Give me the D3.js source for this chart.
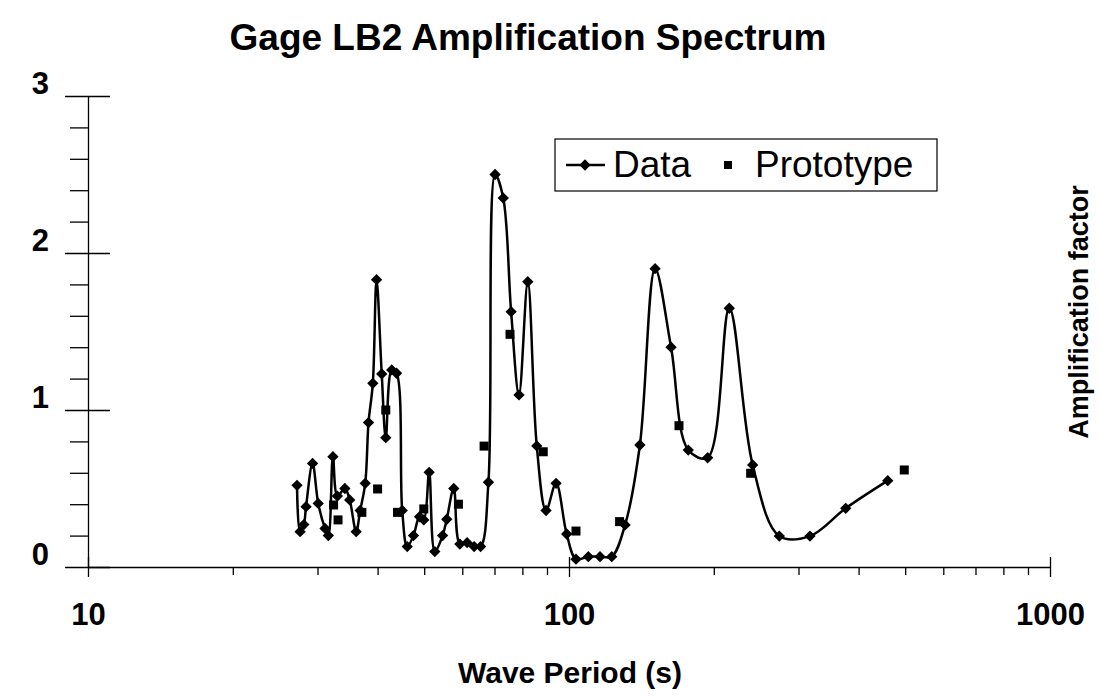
<!DOCTYPE html>
<html>
<head>
<meta charset="utf-8">
<script src="https://cdn.jsdelivr.net/npm/d3@7"></script>
<style>
  body { margin: 0; background: #fff; }
  text { font-family: Arial, "Liberation Sans", sans-serif; fill: #000; }
</style>
</head>
<body>
<svg id="chart"></svg>
<script>
// measured data (wave period in s, amplification factor)
const dataPeriod = [27.2, 27.6, 28.1, 28.4, 29.3, 30.1, 31.1, 31.6, 32.3, 33.0,
  34.2, 35.0, 36.1, 36.8, 37.7, 38.3, 39.1, 39.8, 40.8, 41.6,
  42.8, 43.8, 45.0, 46.1, 47.5, 48.9, 49.9, 51.2, 52.6, 54.6,
  55.7, 57.6, 59.3, 61.4, 63.5, 65.5, 68.0, 70.2, 73.0, 75.8,
  78.7, 82.1, 85.7, 89.6, 94.0, 98.9, 103.4, 109.7, 116.0, 122.7,
  130.8, 140.4, 151.0, 163.0, 177.0, 194.2, 215.4, 240.9, 273.7, 316.9,
  376.1, 459.9];
const dataAmp = [0.52, 0.225, 0.27, 0.384, 0.66, 0.405, 0.246, 0.20, 0.703, 0.452,
  0.50, 0.427, 0.225, 0.36, 0.533, 0.92, 1.17, 1.83, 1.23, 0.824,
  1.255, 1.234, 0.36, 0.13, 0.20, 0.32, 0.30, 0.603, 0.098, 0.20,
  0.304, 0.50, 0.146, 0.155, 0.13, 0.13, 0.54, 2.50, 2.35, 1.626,
  1.096, 1.817, 0.771, 0.36, 0.533, 0.21, 0.05, 0.066, 0.066, 0.066,
  0.268, 0.777, 1.90, 1.40, 0.745, 0.696, 1.648, 0.65, 0.197, 0.197,
  0.374, 0.55];

// prototype points
const protoPeriod = [32.4, 33.1, 37.1, 40.0, 41.6, 44.0, 49.9, 58.9, 66.6, 75.4,
  88.4, 103.4, 127.4, 169.3, 238.6, 497.8];
const protoAmp = [0.395, 0.30, 0.348, 0.497, 1.0, 0.348, 0.37, 0.40, 0.77, 1.482,
  0.734, 0.229, 0.289, 0.90, 0.597, 0.618];

const xTicks = [10, 100, 1000];
const yTicks = [0, 1, 2, 3];

const width = 1100, height = 700;
const svg = d3.select('#chart').attr('width', width).attr('height', height);

const x = d3.scaleLog().domain([10, 1000]).range([88, 1050]);
const y = d3.scaleLinear().domain([0, 3]).range([567, 96]);

// title
svg.append('text')
  .attr('x', 528).attr('y', 50)
  .attr('text-anchor', 'middle')
  .style('font-size', '37px').style('font-weight', 'bold')
  .text('Gage LB2 Amplification Spectrum');

// x axis: minor ticks
svg.append('g')
  .attr('transform', 'translate(0,567)')
  .call(d3.axisBottom(x)
    .tickValues(x.ticks().filter(d => !xTicks.includes(d)))
    .tickSize(8).tickSizeOuter(0).tickFormat(''))
  .call(g => g.select('.domain').remove())
  .selectAll('line').attr('stroke-width', 1.3);

// x axis: major ticks + labels
let xg = svg.append('g')
  .attr('transform', 'translate(0,567)')
  .call(d3.axisBottom(x).tickValues(xTicks).tickSize(10).tickSizeOuter(0)
    .tickFormat(d3.format('d')));
xg.select('.domain').attr('stroke-width', 1.3);
xg.selectAll('.tick line').attr('y1', -10).attr('stroke-width', 1.3);
xg.selectAll('.tick text')
  .attr('y', 58).attr('dy', 0)
  .style('font-size', '31px').style('font-weight', 'bold');

// y axis: minor ticks
svg.append('g')
  .attr('transform', 'translate(88,0)')
  .call(d3.axisLeft(y)
    .tickValues(y.ticks(15).filter(d => !yTicks.includes(d)))
    .tickSize(18).tickSizeOuter(0).tickFormat(''))
  .call(g => g.select('.domain').remove())
  .selectAll('line').attr('stroke-width', 1.3);

// y axis: major ticks + labels
let yg = svg.append('g')
  .attr('transform', 'translate(88,0)')
  .call(d3.axisLeft(y).tickValues(yTicks).tickSize(23).tickSizeOuter(0)
    .tickFormat(d3.format('d')));
yg.select('.domain').attr('stroke-width', 1.3);
yg.selectAll('.tick line').attr('x1', 22).attr('stroke-width', 1.3);
yg.selectAll('.tick text')
  .attr('x', -39).attr('dy', -3)
  .style('font-size', '31px').style('font-weight', 'bold');

// axis titles
svg.append('text')
  .attr('x', 570).attr('y', 683)
  .attr('text-anchor', 'middle')
  .style('font-size', '30px').style('font-weight', 'bold')
  .text('Wave Period (s)');

svg.append('text')
  .attr('transform', 'translate(1088,312) rotate(-90)')
  .attr('text-anchor', 'middle')
  .style('font-size', '27px').style('font-weight', 'bold')
  .text('Amplification factor');

// data line
const points = dataPeriod.map((p, i) => [p, dataAmp[i]]);
const line = d3.line()
  .x(d => x(d[0]))
  .y(d => y(d[1]))
  .curve(d3.curveCatmullRom.alpha(0.5));

svg.append('path')
  .datum(points)
  .attr('d', line)
  .attr('fill', 'none')
  .attr('stroke', '#000')
  .attr('stroke-width', 2.5);

const diamond = d3.symbol(d3.symbolSquare, 64)();
const square = d3.symbol(d3.symbolSquare, 81)();

svg.selectAll('.diamond')
  .data(points)
  .enter()
  .append('path')
  .attr('class', 'diamond')
  .attr('d', diamond)
  .attr('transform', d => `translate(${x(d[0])},${y(d[1])}) rotate(45)`)
  .attr('fill', '#000');

svg.selectAll('.proto')
  .data(protoPeriod.map((p, i) => [p, protoAmp[i]]))
  .enter()
  .append('path')
  .attr('class', 'proto')
  .attr('d', square)
  .attr('transform', d => `translate(${x(d[0])},${y(d[1])})`)
  .attr('fill', '#000');

// legend
let legend = svg.append('g');
legend.append('rect')
  .attr('x', 555).attr('y', 139).attr('width', 382).attr('height', 52)
  .attr('fill', '#fff').attr('stroke', '#000').attr('stroke-width', 1.2);
legend.append('line')
  .attr('x1', 566).attr('x2', 605).attr('y1', 165).attr('y2', 165)
  .attr('stroke', '#000').attr('stroke-width', 2.5);
legend.append('path')
  .attr('d', diamond)
  .attr('transform', 'translate(585,165) rotate(45)');
legend.append('text')
  .attr('x', 613).attr('y', 177)
  .style('font-size', '37px')
  .text('Data');
legend.append('path')
  .attr('d', d3.symbol(d3.symbolSquare, 64)())
  .attr('transform', 'translate(728,165)');
legend.append('text')
  .attr('x', 755).attr('y', 177)
  .style('font-size', '37px')
  .text('Prototype');
</script>
</body>
</html>
